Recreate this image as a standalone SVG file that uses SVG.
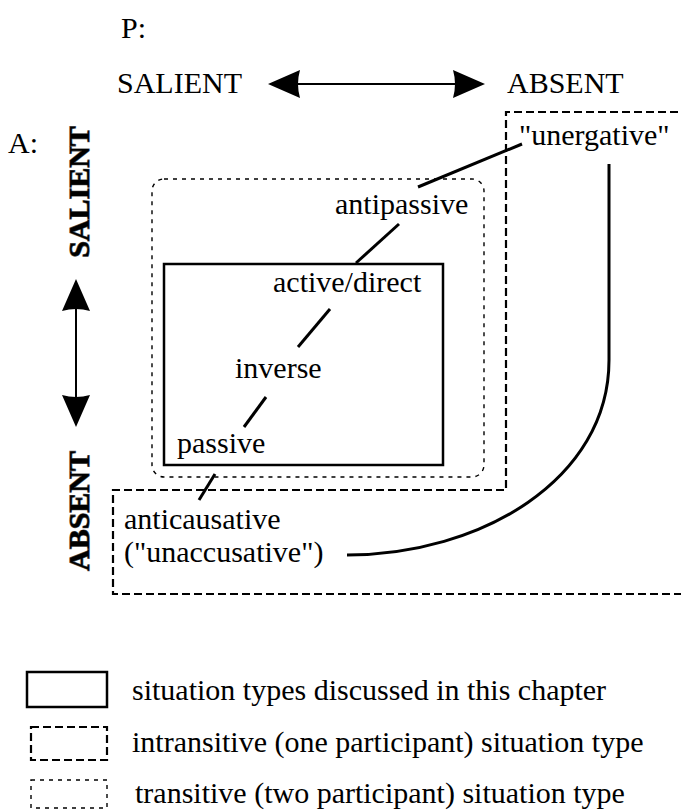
<svg xmlns="http://www.w3.org/2000/svg" width="681" height="810" viewBox="0 0 681 810">
<style>
text{font-family:"Liberation Serif","Times New Roman",serif;font-size:30px;fill:#000}
.b{font-weight:bold;stroke:#555;stroke-width:1.2;paint-order:stroke}
.solid{fill:none;stroke:#000;stroke-width:2.5}
.dash{fill:none;stroke:#000;stroke-width:2.2;stroke-dasharray:8 4}
.dot{fill:none;stroke:#000;stroke-width:1.4;stroke-dasharray:4 5}
.ln{fill:none;stroke:#000;stroke-width:3}
.ax{fill:none;stroke:#000;stroke-width:2}
.head{fill:#000}
</style>
<g id="axis-p">
<text x="121" y="38">P:</text>
<text x="117" y="93">SALIENT</text>
<text x="507" y="93">ABSENT</text>
<line class="ax" x1="298" y1="84" x2="455" y2="84"/>
<path class="head" d="M268,84 L300,70 Q296,84 300,98 Z"/>
<path class="head" d="M485,84 L453,70 Q457,84 453,98 Z"/>
</g>
<g id="axis-a">
<text x="8" y="153">A:</text>
<text class="b" transform="translate(89,192) rotate(-90)" text-anchor="middle">SALIENT</text>
<text class="b" transform="translate(89,511) rotate(-90)" text-anchor="middle">ABSENT</text>
<line class="ax" x1="76" y1="308" x2="76" y2="397"/>
<path class="head" d="M76,279 L62,311 Q76,307 90,311 Z"/>
<path class="head" d="M76,427 L62,395 Q76,399 90,395 Z"/>
</g>
<g id="intransitive-region">
<path class="dash" d="M690,112 L506,112 L506,490 L113,490 L113,594 L690,594"/>
</g>
<g id="transitive-region">
<rect class="dot" x="152" y="179" width="332" height="298" rx="12"/>
</g>
<g id="discussed-region">
<rect class="solid" x="164" y="264" width="279" height="201"/>
</g>
<g id="n-unergative"><text x="519" y="145">"unergative"</text></g>
<g id="n-antipassive"><text x="335" y="214">antipassive</text></g>
<g id="n-active"><text x="273" y="292">active/direct</text></g>
<g id="n-inverse"><text x="235" y="378">inverse</text></g>
<g id="n-passive"><text x="177" y="453">passive</text></g>
<g id="n-anticausative"><text x="124" y="529">anticausative</text><text x="124" y="562">("unaccusative")</text></g>
<g id="connectors">
<line class="ln" x1="522" y1="144" x2="418" y2="187"/>
<line class="ln" x1="399" y1="224" x2="356" y2="263"/>
<line class="ln" x1="330" y1="309" x2="298" y2="347"/>
<line class="ln" x1="266" y1="397" x2="244" y2="427"/>
<line class="ln" x1="215" y1="474" x2="199" y2="500"/>
<path class="ln" d="M609,164 L609,360 C609,480 480,555 347,555"/>
</g>
<g id="legend">
<rect class="solid" x="27" y="672" width="80" height="35"/>
<text x="132" y="700">situation types discussed in this chapter</text>
<rect class="dash" x="31" y="727" width="76" height="33"/>
<text x="132" y="752">intransitive (one participant) situation type</text>
<rect class="dot" x="31" y="780" width="76" height="28"/>
<text x="135" y="803">transitive (two participant) situation type</text>
</g>
</svg>
